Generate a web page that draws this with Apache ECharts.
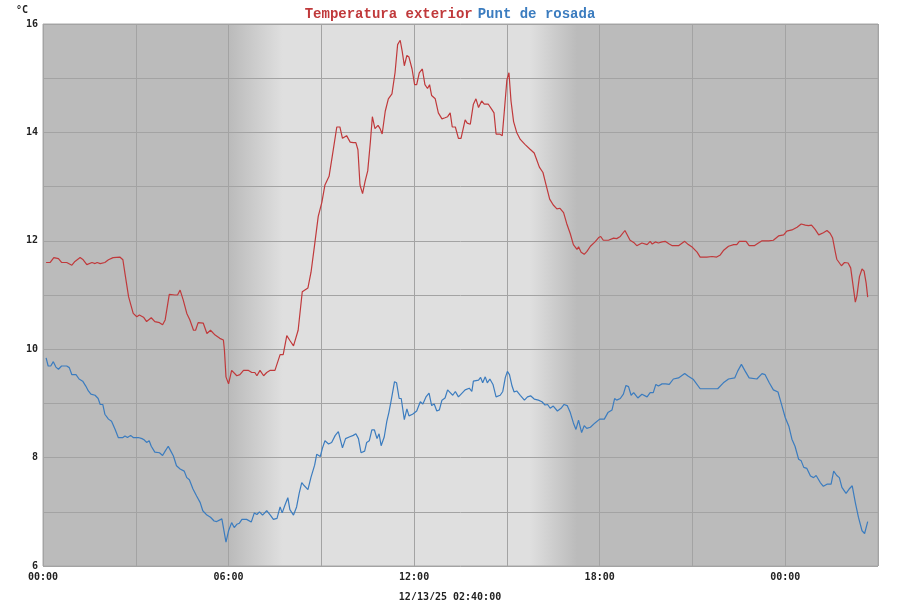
<!DOCTYPE html>
<html>
<head>
<meta charset="utf-8">
<script src="https://cdn.jsdelivr.net/npm/echarts@6/dist/echarts.min.js"></script>
<style>
  html, body { margin: 0; padding: 0; background: #fff; }
  #chart { width: 900px; height: 600px; }
</style>
</head>
<body>
<div id="chart"></div>
<script>
// minutes since 00:00 of the first day
const tempTimes = [6,14,21,30,36,46,56,62,72,78,85,95,101,105,111,120,127,136,149,155,159,166,175,182,187,195,201,210,217,226,232,237,245,256,261,266,272,279,285,292,296,301,311,318,325,334,343,350,352,355,360,366,376,382,389,398,405,411,415,421,428,434,441,450,460,466,473,479,486,495,503,514,520,527,534,541,547,555,561,570,576,581,589,596,602,607,611,615,620,625,630,635,639,644,650,654,658,664,670,677,683,688,693,697,701,706,710,716,721,725,730,736,741,746,750,754,761,767,774,780,785,790,794,800,806,811,819,823,829,835,840,845,851,856,864,871,875,879,886,891,895,900,904,908,913,919,926,935,945,953,958,963,970,976,983,990,997,1003,1010,1016,1023,1029,1036,1039,1044,1050,1055,1062,1071,1078,1082,1087,1097,1107,1113,1120,1129,1139,1146,1152,1162,1172,1178,1182,1188,1194,1201,1207,1215,1221,1233,1245,1252,1260,1269,1275,1288,1298,1307,1314,1320,1330,1340,1346,1351,1364,1370,1380,1388,1395,1408,1417,1427,1437,1443,1453,1463,1471,1479,1485,1491,1498,1505,1514,1521,1527,1532,1537,1540,1549,1555,1562,1567,1571,1576,1579,1584,1589,1593,1597,1600];
const tempValues = [11.60,11.60,11.69,11.67,11.60,11.60,11.55,11.62,11.69,11.65,11.56,11.60,11.58,11.60,11.58,11.60,11.65,11.69,11.70,11.65,11.40,10.97,10.66,10.60,10.63,10.59,10.51,10.58,10.51,10.49,10.45,10.54,11.01,11.00,11.00,11.09,10.91,10.66,10.54,10.35,10.35,10.49,10.48,10.29,10.35,10.26,10.20,10.17,9.98,9.49,9.36,9.61,9.51,9.53,9.61,9.61,9.57,9.57,9.51,9.61,9.51,9.57,9.61,9.61,9.90,9.90,10.25,10.16,10.06,10.35,11.06,11.13,11.42,11.93,12.45,12.71,13.03,13.19,13.55,14.10,14.10,13.89,13.94,13.82,13.81,13.81,13.68,13.03,12.87,13.10,13.29,13.81,14.29,14.07,14.13,14.07,13.97,14.39,14.62,14.71,15.10,15.62,15.70,15.49,15.23,15.42,15.39,15.17,14.88,14.88,15.10,15.17,14.88,14.81,14.88,14.68,14.62,14.36,14.25,14.27,14.29,14.36,14.10,14.10,13.89,13.89,14.23,14.17,14.15,14.52,14.62,14.46,14.58,14.52,14.52,14.42,14.36,13.97,13.97,13.94,14.39,14.97,15.10,14.58,14.20,14.00,13.87,13.78,13.69,13.62,13.49,13.36,13.26,13.03,12.77,12.66,12.59,12.60,12.52,12.32,12.13,11.93,11.84,11.89,11.79,11.75,11.80,11.90,11.98,12.06,12.08,12.01,12.01,12.05,12.04,12.08,12.19,12.01,11.97,11.91,11.96,11.93,11.99,11.94,11.98,11.96,11.98,11.99,11.94,11.91,11.91,11.99,11.93,11.88,11.79,11.70,11.70,11.71,11.70,11.74,11.82,11.90,11.93,11.93,11.99,11.99,11.91,11.91,11.96,12.00,12.00,12.01,12.09,12.11,12.18,12.20,12.25,12.31,12.29,12.28,12.29,12.21,12.11,12.15,12.19,12.14,12.05,11.80,11.66,11.54,11.60,11.59,11.50,11.22,10.87,10.98,11.34,11.48,11.44,11.22,10.96];

const dewTimes = [6,10,15,20,25,30,36,46,51,56,64,70,77,83,88,93,101,107,111,116,120,127,133,140,146,155,159,164,170,175,185,192,196,201,206,210,217,226,232,237,243,248,253,259,266,274,279,284,291,298,305,310,318,325,332,337,340,347,350,355,360,366,371,376,381,386,395,404,410,415,420,426,434,441,447,454,460,464,470,475,479,486,492,497,502,507,514,520,527,531,538,542,547,554,560,567,573,576,581,587,594,602,607,612,617,624,628,633,638,643,648,652,656,662,667,671,675,682,686,691,695,701,706,710,717,725,732,737,743,749,754,759,764,769,774,780,785,790,795,800,806,813,819,827,832,835,845,849,853,858,862,867,873,879,887,892,897,901,905,910,914,919,926,934,940,946,953,961,968,974,979,984,990,998,1005,1011,1017,1023,1029,1034,1039,1045,1050,1055,1062,1071,1080,1089,1096,1104,1109,1113,1120,1126,1131,1136,1141,1146,1154,1162,1172,1178,1184,1189,1194,1201,1208,1215,1223,1233,1245,1252,1262,1275,1291,1309,1320,1330,1342,1348,1355,1362,1370,1385,1395,1401,1409,1417,1426,1432,1440,1447,1453,1459,1466,1471,1476,1482,1489,1495,1500,1508,1514,1521,1529,1534,1540,1545,1550,1558,1564,1570,1576,1582,1589,1594,1600];
const dewValues = [9.84,9.69,9.69,9.77,9.67,9.63,9.69,9.69,9.66,9.53,9.53,9.45,9.41,9.32,9.23,9.17,9.15,9.09,8.98,8.98,8.80,8.71,8.67,8.52,8.37,8.37,8.40,8.37,8.41,8.37,8.37,8.35,8.33,8.28,8.31,8.21,8.10,8.09,8.04,8.12,8.21,8.12,8.03,7.85,7.79,7.75,7.63,7.59,7.42,7.29,7.17,7.02,6.94,6.90,6.83,6.82,6.80,6.87,6.85,6.44,6.65,6.80,6.71,6.77,6.79,6.86,6.86,6.81,6.98,6.95,7.00,6.94,7.02,6.94,6.86,6.88,7.09,6.98,7.14,7.26,7.04,6.94,7.09,7.34,7.54,7.48,7.41,7.64,7.86,8.06,8.02,8.17,8.31,8.25,8.28,8.41,8.48,8.46,8.18,8.35,8.38,8.41,8.44,8.35,8.09,8.12,8.28,8.31,8.51,8.51,8.35,8.44,8.22,8.38,8.67,8.83,9.03,9.40,9.38,9.09,9.09,8.70,8.90,8.77,8.80,8.86,9.03,8.99,9.12,9.19,8.96,8.99,8.86,8.88,9.06,9.10,9.25,9.20,9.15,9.22,9.12,9.19,9.25,9.28,9.22,9.41,9.43,9.48,9.38,9.49,9.38,9.45,9.35,9.12,9.15,9.22,9.48,9.59,9.53,9.32,9.21,9.23,9.15,9.06,9.12,9.14,9.08,9.06,9.03,8.97,8.98,8.91,8.95,8.86,8.91,8.98,8.96,8.83,8.64,8.52,8.69,8.46,8.59,8.54,8.56,8.64,8.71,8.71,8.83,8.88,9.09,9.06,9.09,9.17,9.33,9.31,9.15,9.20,9.10,9.17,9.12,9.20,9.20,9.35,9.32,9.36,9.36,9.35,9.45,9.47,9.55,9.50,9.44,9.27,9.27,9.27,9.38,9.45,9.47,9.60,9.72,9.60,9.47,9.45,9.55,9.53,9.38,9.25,9.21,9.01,8.74,8.58,8.34,8.21,7.97,7.94,7.82,7.80,7.66,7.63,7.67,7.54,7.47,7.51,7.51,7.75,7.67,7.63,7.45,7.34,7.42,7.48,7.17,6.90,6.65,6.60,6.82];

// x axis labels every 6 hours, grid every 3 hours
const xTickLabels = ['00:00', '06:00', '12:00', '18:00', '00:00'];

// daylight shading (minutes): night -> dawn fade -> day -> dusk fade -> night
const X_MAX = 1620;
const dawnStart = 362, dawnEnd = 465, duskStart = 945, duskEnd = 1036;

const NIGHT = '#bbbbbb';
const DAY = '#dfdfdf';
const RED = '#c0393b';
const BLUE = '#3b7cbf';

const chart = echarts.init(document.getElementById('chart'));

function pairs(times, values) {
  return times.map((t, i) => [t, values[i]]);
}

// one band over the whole axis, so there are no seams between pieces
const skyGradient = {
  type: 'linear', x: 0, y: 0, x2: 1, y2: 0,
  colorStops: [
    { offset: 0, color: NIGHT },
    { offset: dawnStart / X_MAX, color: NIGHT },
    { offset: dawnEnd / X_MAX, color: DAY },
    { offset: duskStart / X_MAX, color: DAY },
    { offset: duskEnd / X_MAX, color: NIGHT },
    { offset: 1, color: NIGHT }
  ]
};

const monoLabel = { color: '#222', fontFamily: 'DejaVu Sans Mono', fontSize: 10, fontWeight: 'bold' };

chart.setOption({
  animation: false,
  backgroundColor: '#ffffff',
  title: [
    {
      text: '{a|Temperatura exterior} {b|Punt de rosada}',
      left: 'center',
      top: 0,
      textStyle: {
        rich: {
          a: { color: RED, fontFamily: 'Liberation Mono', fontSize: 14, fontWeight: 'bold' },
          b: { color: BLUE, fontFamily: 'Liberation Mono', fontSize: 14, fontWeight: 'bold' }
        }
      }
    },
    { text: '°C', left: 11, top: 0, textStyle: monoLabel },
    { text: '12/13/25 02:40:00', left: 'center', top: 587, textStyle: monoLabel }
  ],
  grid: {
    left: 43, right: 22, top: 24, bottom: 34,
    show: true, zlevel: 1, borderColor: '#a8a8a8', borderWidth: 1, backgroundColor: 'transparent'
  },
  xAxis: {
    type: 'value',
    min: 0,
    max: X_MAX,
    interval: 180,
    zlevel: 1,
    axisLine: { show: false },
    axisTick: { show: false },
    axisLabel: Object.assign({}, monoLabel, {
      margin: 6,
      formatter: v => (v % 360 === 0 ? xTickLabels[v / 360] : '')
    }),
    splitLine: { lineStyle: { color: '#a3a3a3', width: 1 } }
  },
  yAxis: {
    type: 'value',
    min: 6,
    max: 16,
    interval: 1,
    zlevel: 1,
    axisLine: { show: false },
    axisTick: { show: false },
    axisLabel: Object.assign({}, monoLabel, {
      margin: 5,
      formatter: v => (v % 2 === 0 ? String(v) : '')
    }),
    splitLine: { lineStyle: { color: '#a3a3a3', width: 1 } }
  },
  series: [
    {
      name: 'background',
      type: 'line',
      data: [],
      zlevel: 0,
      silent: true,
      markArea: {
        silent: true,
        itemStyle: { color: skyGradient },
        data: [[{ xAxis: 0 }, { xAxis: X_MAX }]]
      }
    },
    {
      name: 'Temperatura exterior',
      type: 'line',
      zlevel: 1,
      data: pairs(tempTimes, tempValues),
      showSymbol: false,
      lineStyle: { color: RED, width: 1.2 },
      itemStyle: { color: RED }
    },
    {
      name: 'Punt de rosada',
      type: 'line',
      zlevel: 1,
      data: pairs(dewTimes, dewValues),
      showSymbol: false,
      lineStyle: { color: BLUE, width: 1.2 },
      itemStyle: { color: BLUE }
    }
  ]
});

window.addEventListener('resize', () => chart.resize());
</script>
</body>
</html>
